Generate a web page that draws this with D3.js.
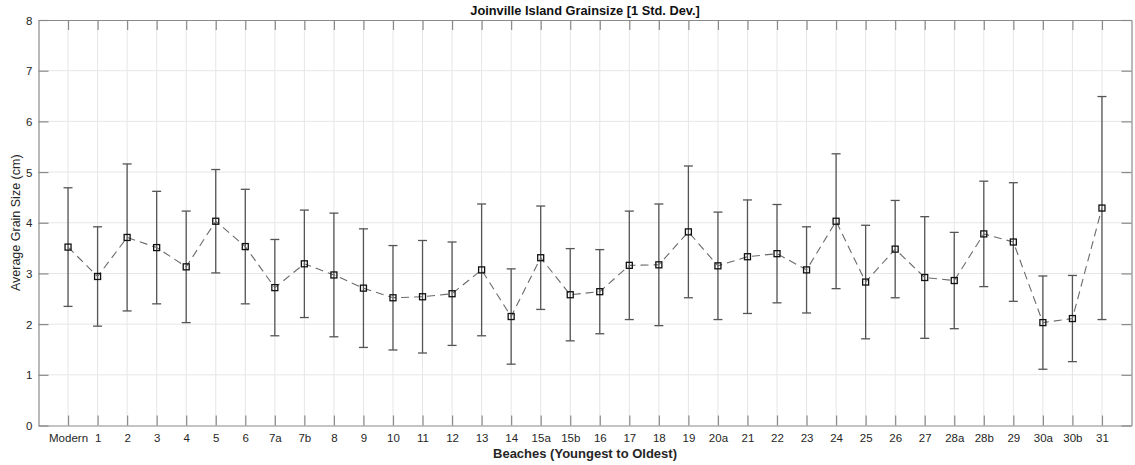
<!DOCTYPE html>
<html>
<head>
<meta charset="utf-8">
<script src="https://cdn.jsdelivr.net/npm/d3@7"></script>
<style>
  html, body { margin: 0; padding: 0; background: #fff; }
  svg { display: block; font-family: "Liberation Sans", Arial, Helvetica, sans-serif; }
</style>
</head>
<body>
<svg id="chart" width="1135" height="465"></svg>
<script>
// Beach labels, youngest to oldest
const beaches = ["Modern", "1", "2", "3", "4", "5", "6", "7a", "7b", "8", "9", "10", "11", "12",
  "13", "14", "15a", "15b", "16", "17", "18", "19", "20a", "21", "22", "23", "24", "25", "26",
  "27", "28a", "28b", "29", "30a", "30b", "31"];

// Average grain size (cm)
const meanSize = [3.52, 2.94, 3.71, 3.51, 3.13, 4.03, 3.53, 2.72, 3.19, 2.97, 2.71, 2.52, 2.54, 2.60,
  3.07, 2.15, 3.31, 2.58, 2.64, 3.16, 3.17, 3.82, 3.15, 3.33, 3.39, 3.07, 4.03, 2.83, 3.48,
  2.92, 2.86, 3.78, 3.62, 2.03, 2.11, 4.29];

// One standard deviation (cm)
const stdDev = [1.17, 0.98, 1.45, 1.11, 1.10, 1.02, 1.13, 0.95, 1.06, 1.22, 1.17, 1.03, 1.11, 1.02,
  1.30, 0.94, 1.02, 0.91, 0.83, 1.07, 1.20, 1.30, 1.06, 1.12, 0.97, 0.85, 1.33, 1.12, 0.96,
  1.20, 0.95, 1.04, 1.17, 0.92, 0.85, 2.20];

const yTicks = [0, 1, 2, 3, 4, 5, 6, 7, 8];

const margin = { left: 38.5, right: 3.5, top: 20, bottom: 39.5 };
const W = 1135, H = 465;
const innerW = W - margin.left - margin.right;
const innerH = H - margin.top - margin.bottom;

const svg = d3.select("#chart");
const g = svg.append("g").attr("transform", `translate(${margin.left},${margin.top})`);

const data = beaches.map((b, i) => ({ name: b, idx: i + 1, mean: meanSize[i], sd: stdDev[i] }));

const x = d3.scaleLinear().domain([0, beaches.length + 1]).range([0, innerW]);
const y = d3.scaleLinear().domain([0, 8]).range([innerH, 0]);

const axisColor = "#8a8a8a";
const textColor = "#262626";
const tickLen = 10;

// Grid
g.append("g").selectAll("line.gx").data(data).join("line")
  .attr("x1", d => x(d.idx)).attr("x2", d => x(d.idx))
  .attr("y1", 0).attr("y2", innerH)
  .attr("stroke", "#e6e6e6").attr("stroke-width", 1);
g.append("g").selectAll("line.gy").data(yTicks.slice(1, -1)).join("line")
  .attr("x1", 0).attr("x2", innerW)
  .attr("y1", d => y(d)).attr("y2", d => y(d))
  .attr("stroke", "#e6e6e6").attr("stroke-width", 1);

// Axes: bottom and left carry labels, top and right repeat inward ticks
const xAxis = d3.axisBottom(x).tickValues(data.map(d => d.idx))
  .tickFormat(v => beaches[v - 1]).tickSizeInner(-tickLen).tickSizeOuter(0).tickPadding(8);
const gx = g.append("g").attr("transform", `translate(0,${innerH})`).call(xAxis);
const xTop = d3.axisTop(x).tickValues(data.map(d => d.idx)).tickFormat("")
  .tickSizeInner(-tickLen).tickSizeOuter(0);
const gxt = g.append("g").call(xTop);

const yAxis = d3.axisLeft(y).tickValues(yTicks).tickFormat(d3.format("d"))
  .tickSizeInner(-tickLen).tickSizeOuter(0).tickPadding(6);
const gy = g.append("g").call(yAxis);
const yRight = d3.axisRight(y).tickValues(yTicks).tickFormat("")
  .tickSizeInner(-tickLen).tickSizeOuter(0);
const gyr = g.append("g").attr("transform", `translate(${innerW},0)`).call(yRight);

[gx, gxt, gy, gyr].forEach(a => {
  a.select(".domain").attr("stroke", axisColor).attr("stroke-width", 1.2);
  a.selectAll(".tick line").attr("stroke", axisColor).attr("stroke-width", 1.2);
  a.selectAll(".tick text").attr("fill", textColor).attr("font-size", 11.5)
    .attr("font-family", "'Liberation Sans', Arial, sans-serif");
});
gy.selectAll(".tick text").attr("dy", "0.35em");

// Error bars
const capHalf = 4.5;
const eb = g.append("g").attr("stroke", "#555").attr("stroke-width", 1.3);
eb.selectAll("line.v").data(data).join("line")
  .attr("x1", d => x(d.idx)).attr("x2", d => x(d.idx))
  .attr("y1", d => y(d.mean + d.sd)).attr("y2", d => y(d.mean - d.sd));
eb.selectAll("line.top").data(data).join("line")
  .attr("x1", d => x(d.idx) - capHalf).attr("x2", d => x(d.idx) + capHalf)
  .attr("y1", d => y(d.mean + d.sd)).attr("y2", d => y(d.mean + d.sd));
eb.selectAll("line.bot").data(data).join("line")
  .attr("x1", d => x(d.idx) - capHalf).attr("x2", d => x(d.idx) + capHalf)
  .attr("y1", d => y(d.mean - d.sd)).attr("y2", d => y(d.mean - d.sd));

// Dashed mean line
const line = d3.line().x(d => x(d.idx)).y(d => y(d.mean));
g.append("path").datum(data).attr("d", line)
  .attr("fill", "none").attr("stroke", "#6a6a6a").attr("stroke-width", 1.1)
  .attr("stroke-dasharray", "8,5");

// Square markers
const ms = 6;
g.append("g").selectAll("rect").data(data).join("rect")
  .attr("x", d => x(d.idx) - ms / 2).attr("y", d => y(d.mean) - ms / 2)
  .attr("width", ms).attr("height", ms)
  .attr("fill", "none").attr("stroke", "#111").attr("stroke-width", 1.3);

// Title and axis labels
svg.append("text").attr("x", margin.left + innerW / 2).attr("y", 15)
  .attr("text-anchor", "middle").attr("font-weight", "bold").attr("font-size", 12.8)
  .attr("fill", "#111").text("Joinville Island Grainsize [1 Std. Dev.]");

svg.append("text").attr("x", margin.left + innerW / 2).attr("y", 457.5)
  .attr("text-anchor", "middle").attr("font-weight", "bold").attr("font-size", 13)
  .attr("fill", textColor).text("Beaches (Youngest to Oldest)");

svg.append("text")
  .attr("transform", `translate(19.5,${margin.top + innerH / 2}) rotate(-90)`)
  .attr("text-anchor", "middle").attr("font-size", 12.5)
  .attr("fill", textColor).text("Average Grain Size (cm)");
</script>
</body>
</html>
